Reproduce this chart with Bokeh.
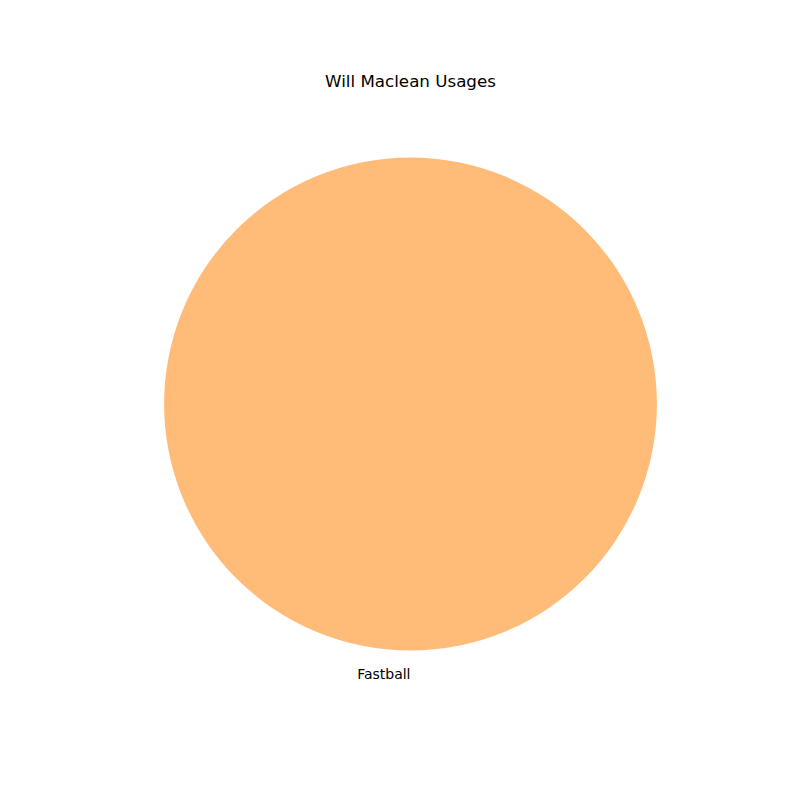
import math
from bokeh.plotting import figure
from bokeh.models import ColumnDataSource, Range1d
from bokeh.core.properties import value
from bokeh.embed import file_html
from bokeh.resources import INLINE

title_text = "Will Maclean Usages"
pitch_labels = ["Fastball"]
pitch_values = [100.0]
pitch_colors = ["#ffbb78"]

W = H = 800
cx, cy, r = 410, 800 - 403.5, 246.5
start_deg = 90.0

total = sum(pitch_values)
starts, ends, lx, ly, aligns = [], [], [], [], []
a = start_deg
for v in pitch_values:
    span = 360.0 * v / total
    s, e = a, a + span
    mid = math.radians((s + e) / 2)
    starts.append(math.radians(s))
    ends.append(math.radians(e))
    lx.append(cx + 1.1 * r * math.cos(mid))
    ly.append(cy + 1.1 * r * math.sin(mid) + 1)
    aligns.append("right" if math.cos(mid) < 0 else "left")
    a = e

src = ColumnDataSource(dict(start=starts, end=ends, color=pitch_colors,
                            lx=lx, ly=ly, label=pitch_labels, align=aligns))

p = figure(width=W, height=H, output_backend="svg", toolbar_location=None,
           x_range=Range1d(0, W), y_range=Range1d(0, H), min_border=0)
p.axis.visible = False
p.xgrid.visible = False
p.ygrid.visible = False
p.outline_line_color = None
p.background_fill_color = "white"
p.border_fill_color = "white"

p.wedge(x=cx, y=cy, radius=r, start_angle="start", end_angle="end",
        fill_color="color", line_color=None, source=src)
p.text(x="lx", y="ly", text="label", text_align="right", text_baseline="middle",
       text_font=value("DejaVu Sans"), text_font_size="14px", text_color="black", source=src)
p.text(x=[cx], y=[H - 80], text=[title_text], text_align="center", text_baseline="middle",
       text_font=value("DejaVu Sans"), text_font_size="16.7px", text_color="black")

open("out.html", "w").write(file_html(p, INLINE))
